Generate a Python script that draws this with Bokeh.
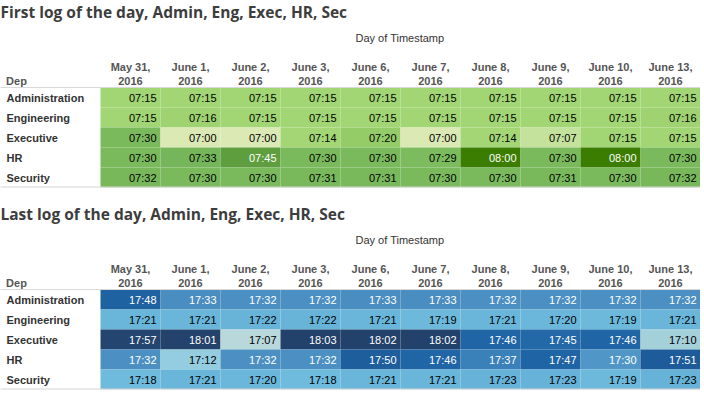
import numpy as np
from bokeh.plotting import figure
from bokeh.models import ColumnDataSource, FactorRange, Range1d, FixedTicker, Title, Span
from bokeh.transform import linear_cmap
from bokeh.layouts import column
from bokeh.embed import file_html
from bokeh.resources import INLINE
from bokeh.core.properties import value

# ---------------- data ----------------
dates = ["May 31, 2016", "June 1, 2016", "June 2, 2016", "June 3, 2016", "June 6, 2016",
         "June 7, 2016", "June 8, 2016", "June 9, 2016", "June 10, 2016", "June 13, 2016"]
deps = ["Administration", "Engineering", "Executive", "HR", "Security"]

first_admin = ["07:15", "07:15", "07:15", "07:15", "07:15", "07:15", "07:15", "07:15", "07:15", "07:15"]
first_eng   = ["07:15", "07:16", "07:15", "07:15", "07:15", "07:15", "07:15", "07:15", "07:15", "07:16"]
first_exec  = ["07:30", "07:00", "07:00", "07:14", "07:20", "07:00", "07:14", "07:07", "07:15", "07:15"]
first_hr    = ["07:30", "07:33", "07:45", "07:30", "07:30", "07:29", "08:00", "07:30", "08:00", "07:30"]
first_sec   = ["07:32", "07:30", "07:30", "07:31", "07:31", "07:30", "07:30", "07:31", "07:30", "07:32"]

last_admin = ["17:48", "17:33", "17:32", "17:32", "17:33", "17:33", "17:32", "17:32", "17:32", "17:32"]
last_eng   = ["17:21", "17:21", "17:22", "17:22", "17:21", "17:19", "17:21", "17:20", "17:19", "17:21"]
last_exec  = ["17:57", "18:01", "17:07", "18:03", "18:02", "18:02", "17:46", "17:45", "17:46", "17:10"]
last_hr    = ["17:32", "17:12", "17:32", "17:32", "17:50", "17:46", "17:37", "17:47", "17:30", "17:51"]
last_sec   = ["17:18", "17:21", "17:20", "17:18", "17:21", "17:21", "17:23", "17:23", "17:19", "17:23"]

first_rows = [first_admin, first_eng, first_exec, first_hr, first_sec]
last_rows = [last_admin, last_eng, last_exec, last_hr, last_sec]

# colour stops (time -> colour) for the sequential palettes
green_stops = [("07:00", "#dbe9b5"), ("07:07", "#c4e29b"), ("07:14", "#a4d675"), ("07:15", "#a2d573"),
               ("07:20", "#94cc68"), ("07:29", "#7cbc5e"), ("07:33", "#76b65a"), ("07:45", "#5e9e3f"),
               ("08:00", "#3b7d00")]
blue_stops = [("17:07", "#b9d8dc"), ("17:10", "#a3d0da"), ("17:12", "#93cde0"), ("17:18", "#6ebbdd"),
              ("17:23", "#66b2d8"), ("17:30", "#5097c7"), ("17:33", "#4a8dc1"), ("17:37", "#3a81ba"),
              ("17:46", "#2066a6"), ("17:51", "#1d5c9b"), ("17:57", "#24456f"), ("18:03", "#22416b")]

W = 700          # total width
LEFT = 100       # width of the row-label column (px)
FH = 100         # table body height (px)
TOP = 87         # header height above the table body (px)
CW = (W - LEFT) / len(dates)   # cell width (px)


def to_min(s):
    h, m = s.split(":")
    return int(h) * 60 + int(m)


def make_palette(stops, n=256):
    mins = np.array([to_min(t) for t, _ in stops], dtype=float)
    rgb = np.array([[int(c[i:i + 2], 16) for i in (1, 3, 5)] for _, c in stops], dtype=float)
    grid = np.linspace(mins[0], mins[-1], n)
    cols = np.stack([np.interp(grid, mins, rgb[:, k]) for k in range(3)], axis=1)
    return ["#%02x%02x%02x" % tuple(int(round(v)) for v in row) for row in cols], mins[0], mins[-1]


def table(title, rows, stops, white_from, bottom_border):
    pal, lo, hi = make_palette(stops)
    xs, ys, labels, mins, tcs = [], [], [], [], []
    for dep, row in zip(deps, rows):
        for i, v in enumerate(row):
            xs.append(i + 0.5)
            ys.append(dep)
            labels.append(v)
            mins.append(to_min(v))
            tcs.append("#ffffff" if to_min(v) >= to_min(white_from) else "#000000")
    src = ColumnDataSource(dict(x=xs, xr=[x + 0.5 for x in xs], y=ys, label=labels, m=mins, tc=tcs))

    x0 = -LEFT / CW
    p = figure(x_range=Range1d(x0, len(dates)), y_range=FactorRange(*reversed(deps)),
               frame_width=W, frame_height=FH, min_border_left=0, min_border_right=0,
               min_border_bottom=bottom_border, min_border_top=TOP, x_axis_location="above",
               y_axis_location=None, toolbar_location=None, output_backend="svg", title=title)
    p.rect(x="x", y="y", width=1, height=1, source=src,
           fill_color=linear_cmap("m", pal, lo, hi), line_color=None)
    p.text(x="xr", y="y", text="label", source=src,
           x_offset=-4, text_align="right", text_baseline="middle",
           text_font=value("Liberation Sans"), text_font_size="11px", text_color="tc")

    # row labels (inside the frame, in the label column)
    lsrc = ColumnDataSource(dict(x=[x0] * len(deps), y=deps))
    p.text(x="x", y="y", text="y", source=lsrc, x_offset=6, text_baseline="middle",
           text_font=value("Liberation Sans"), text_font_size="11px",
           text_font_style="bold", text_color="#333333")

    p.grid.visible = False
    p.outline_line_color = None

    # column headers on the top axis; "Dep" header at the left
    dep_tick = x0 + 16 / CW
    ticks = [dep_tick] + [i + 0.5 for i in range(len(dates))]
    overrides = {dep_tick: "\nDep"}
    for i, d in enumerate(dates):
        overrides[i + 0.5] = d.replace(", ", ",\n")
    ax = p.xaxis[0]
    ax.ticker = FixedTicker(ticks=ticks)
    ax.major_label_overrides = overrides
    ax.major_label_text_font = "Liberation Sans"
    ax.major_label_text_font_size = "11px"
    ax.major_label_text_font_style = "bold"
    ax.major_label_text_color = "#555555"
    ax.major_label_text_line_height = 1.1
    ax.major_label_standoff = 1
    ax.major_tick_out = 0
    ax.minor_tick_out = 0
    ax.major_tick_line_color = None
    ax.minor_tick_line_color = None
    ax.axis_line_color = "#d9d9d9"
    ax.axis_line_width = 1

    # bottom rule of the table
    p.add_layout(Span(location=0, dimension="width", line_color="#d4d4d4", line_width=2))

    p.add_layout(Title(text="Day of Timestamp", align="left", offset=LEFT + (W - LEFT) / 2 - 45,
                       text_font="Liberation Sans", text_font_size="11px",
                       text_font_style="normal", text_color="#333333", standoff=30), "above")

    p.title.text_font = "Open Sans"
    p.title.text_font_size = "15.5px"
    p.title.text_font_style = "bold"
    p.title.text_color = "#3d3d3d"
    p.title.offset = 0
    p.title.standoff = -16
    return p


p1 = table("First log of the day, Admin, Eng, Exec, HR, Sec", first_rows, green_stops, "07:40", 15)
p2 = table("Last log of the day, Admin, Eng, Exec, HR, Sec", last_rows, blue_stops, "17:25", 2)

layout = column(p1, p2, spacing=0)
open("out.html", "w").write(file_html(layout, INLINE))
